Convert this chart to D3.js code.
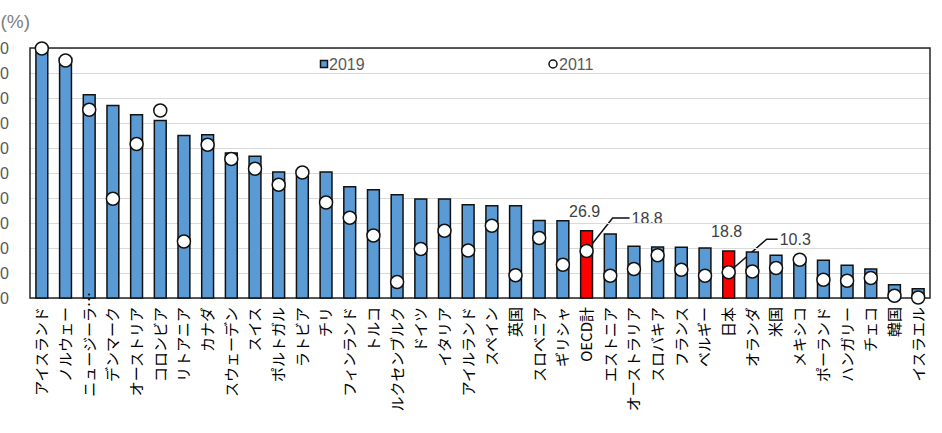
<!DOCTYPE html>
<html lang="ja">
<head>
<meta charset="utf-8">
<script src="https://cdn.jsdelivr.net/npm/d3@7"></script>
<style>
  html, body { margin: 0; padding: 0; background: #fff; }
  svg { display: block; }
  text { font-family: "Noto Sans CJK JP", "Noto Sans", sans-serif; }
  .num { font-family: "Liberation Sans", "Noto Sans CJK JP", sans-serif; }
</style>
</head>
<body>
<script>
// Countries, ordered by the 2019 value
const categories = [
  "アイスランド", "ノルウェー", "ニュージーランド", "デンマーク", "オーストリア", "コロンビア",
  "リトアニア", "カナダ", "スウェーデン", "スイス", "ポルトガル", "ラトビア", "チリ",
  "フィンランド", "トルコ", "ルクセンブルク", "ドイツ", "イタリア", "アイルランド", "スペイン",
  "英国", "スロベニア", "ギリシャ", "OECD計", "エストニア", "オーストラリア", "スロバキア",
  "フランス", "ベルギー", "日本", "オランダ", "米国", "メキシコ", "ポーランド", "ハンガリー",
  "チェコ", "韓国", "イスラエル"
];

// 2019 values (%)
const values2019 = [
  99.4, 96.0, 81.3, 77.0, 73.3, 71.0, 65.0, 65.3, 58.0, 56.7, 50.4, 49.6, 50.4,
  44.5, 43.3, 41.3, 39.6, 39.6, 37.3, 36.9, 36.9, 31.0, 30.9, 26.9, 25.6, 20.7, 20.4,
  20.3, 20.0, 18.8, 18.4, 17.1, 15.8, 15.1, 13.1, 11.6, 5.3, 3.7
];

// 2011 values (%)
const values2011 = [
  99.8, 95.0, 75.3, 39.7, 61.6, 75.0, 22.6, 61.3, 55.6, 51.7, 45.3, 50.2, 38.2,
  32.1, 25.0, 6.4, 19.6, 26.9, 19.0, 28.9, 9.1, 24.0, 13.3, 18.8, 8.9, 11.6, 17.1,
  11.3, 8.9, 10.3, 10.6, 12.0, 15.3, 7.3, 6.9, 8.0, 0.9, 0.2
];

// Bars drawn in red
const highlighted = ["OECD計", "日本"];

// Y axis ticks
const yTicks = [0, 10, 20, 30, 40, 50, 60, 70, 80, 90, 100];

// Legend labels
const seriesNames = ["2019", "2011"];

const W = 942, H = 433;
const plot = { left: 30, right: 930, top: 48, bottom: 298 };

const svg = d3.select("body").append("svg")
  .attr("width", W).attr("height", H);

const x = d3.scaleBand()
  .domain(categories)
  .range([plot.left, plot.right])
  .paddingInner(0.5)
  .paddingOuter(0.25);

const y = d3.scaleLinear()
  .domain([0, 100])
  .range([plot.bottom, plot.top]);

// Gridlines
svg.append("g")
  .attr("transform", `translate(${plot.left},0)`)
  .call(d3.axisLeft(y).tickValues(yTicks).tickSize(-(plot.right - plot.left)).tickFormat(""))
  .call(g => g.select(".domain").remove())
  .call(g => g.selectAll("line").attr("stroke", "#d9d9d9").attr("stroke-width", 1));

// Y tick labels
svg.append("g")
  .attr("transform", `translate(${plot.left},0)`)
  .call(d3.axisLeft(y).tickValues(yTicks).tickSize(0).tickPadding(21))
  .call(g => g.select(".domain").remove())
  .call(g => g.selectAll("text")
    .attr("class", "num")
    .attr("fill", "#595959")
    .style("font-size", "16px"));

svg.append("text")
  .attr("class", "num")
  .attr("x", 30).attr("y", 28)
  .attr("text-anchor", "end")
  .attr("fill", "#7f7f7f")
  .style("font-size", "19px")
  .text("(%)");

// Plot frame
svg.append("rect")
  .attr("x", plot.left).attr("y", plot.top)
  .attr("width", plot.right - plot.left)
  .attr("height", plot.bottom - plot.top)
  .attr("fill", "none")
  .attr("stroke", "#262626")
  .attr("stroke-width", 1.5);

// Bars (2019)
svg.append("g")
  .selectAll("rect")
  .data(categories)
  .join("rect")
  .attr("x", d => x(d))
  .attr("width", x.bandwidth())
  .attr("y", (d, i) => y(values2019[i]))
  .attr("height", (d, i) => y(0) - y(values2019[i]))
  .attr("fill", d => highlighted.includes(d) ? "#ff0000" : "#5b9bd5")
  .attr("stroke", "#111")
  .attr("stroke-width", 1.5);

// Markers (2011)
svg.append("g")
  .selectAll("circle")
  .data(categories)
  .join("circle")
  .attr("cx", d => x(d) + x.bandwidth() / 2)
  .attr("cy", (d, i) => y(values2011[i]))
  .attr("r", 6.5)
  .attr("fill", "#fff")
  .attr("stroke", "#111")
  .attr("stroke-width", 1.5);

// Category labels, rotated to read bottom-to-top
const xAxis = svg.append("g")
  .attr("transform", `translate(0,${plot.bottom})`)
  .call(d3.axisBottom(x).tickSize(0).tickFormat(d => d.length > 7 ? d.slice(0, 6) : d))
  .call(g => g.select(".domain").remove());

xAxis.selectAll(".tick text")
  .attr("fill", "#000")
  .style("font-size", "15px")
  .attr("text-anchor", "end")
  .attr("transform", "rotate(-90)")
  .attr("x", -9)
  .attr("y", 0)
  .attr("dy", "0.36em");

// Overflow marker for the shortened label
xAxis.selectAll(".tick")
  .filter(d => d.length > 7)
  .append("text")
  .attr("fill", "#000")
  .style("font-size", "15px")
  .attr("text-anchor", "start")
  .attr("transform", "rotate(-90)")
  .attr("x", -9)
  .attr("y", 0)
  .attr("dy", "0.36em")
  .text("⋯");

// Legend
const legend = svg.append("g");
legend.append("rect")
  .attr("x", 320.5).attr("y", 60.5).attr("width", 7).attr("height", 7)
  .attr("fill", "#5b9bd5").attr("stroke", "#111").attr("stroke-width", 1.5);
legend.append("text")
  .attr("class", "num")
  .attr("x", 329).attr("y", 64).attr("dy", "0.36em")
  .attr("fill", "#595959").style("font-size", "16px")
  .text(seriesNames[0]);
legend.append("circle")
  .attr("cx", 553).attr("cy", 64).attr("r", 4)
  .attr("fill", "#fff").attr("stroke", "#111").attr("stroke-width", 1.5);
legend.append("text")
  .attr("class", "num")
  .attr("x", 559).attr("y", 64).attr("dy", "0.36em")
  .attr("fill", "#595959").style("font-size", "16px")
  .text(seriesNames[1]);

// Value callouts for the highlighted bars and their 2011 markers
const ann = svg.append("g");
const elbows = { "OECD計": [26, 17], "日本": [38, 11] };
highlighted.forEach(name => {
  const i = categories.indexOf(name);
  const cx = x(name) + x.bandwidth() / 2;
  const barTop = y(values2019[i]);
  ann.append("text")
    .attr("class", "num")
    .attr("x", cx - 2).attr("y", barTop - 14)
    .attr("text-anchor", "middle")
    .attr("fill", "#404040").style("font-size", "16px")
    .text(values2019[i].toFixed(1));

  const cy = y(values2011[i]);
  const [dx, run] = elbows[name];
  const ly = cy - 33;
  ann.append("path")
    .attr("d", `M${cx},${cy} L${cx + dx},${ly} L${cx + dx + run},${ly}`)
    .attr("fill", "none").attr("stroke", "#111").attr("stroke-width", 1.5);
  ann.append("text")
    .attr("class", "num")
    .attr("x", cx + dx + run + 2).attr("y", ly).attr("dy", "0.36em")
    .attr("fill", "#404040").style("font-size", "16px")
    .text(values2011[i].toFixed(1));
});

// Circles sit above the leader lines
ann.lower();
svg.selectAll("circle").raise();
legend.raise();
</script>
</body>
</html>
